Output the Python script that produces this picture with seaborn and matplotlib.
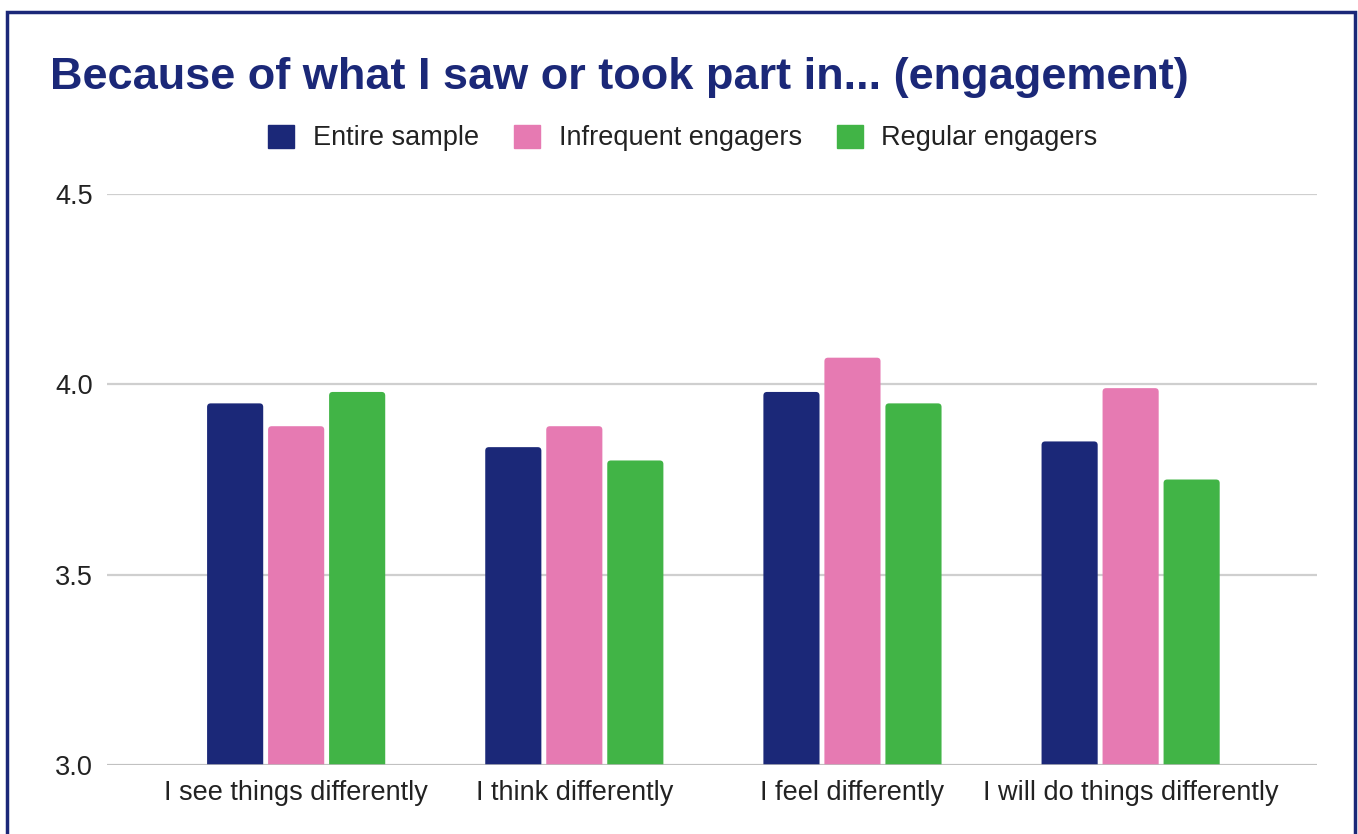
import pandas as pd
import matplotlib.pyplot as plt
import seaborn as sns
from matplotlib.patches import Rectangle, FancyBboxPatch

# Verileri resimden okudum
kategoriler = ["I see things differently", "I think differently",
               "I feel differently", "I will do things differently"]
entire_sample = [3.95, 3.835, 3.98, 3.85]
infrequent = [3.89, 3.89, 4.07, 3.99]
regular = [3.98, 3.80, 3.95, 3.75]
gruplar = ["Entire sample", "Infrequent engagers", "Regular engagers"]

renkler = ["#1B2878", "#E67AB2", "#41B446"]

df = pd.DataFrame({
    "kategori": kategoriler * 3,
    "grup": [gruplar[0]] * 4 + [gruplar[1]] * 4 + [gruplar[2]] * 4,
    "deger": entire_sample + infrequent + regular,
})

sns.set_theme(style="white")
plt.rcParams["font.family"] = ["Liberation Sans", "DejaVu Sans"]

fig = plt.figure(figsize=(13.58, 8.34), dpi=100)
ax = fig.add_axes([0.0788, 0.0827, 0.891, 0.6847])

sns.barplot(
    data=df, x="kategori", y="deger", hue="grup",
    palette=renkler, width=0.658, gap=0.08, ax=ax,
    legend=False, saturation=1,
)

ax.set_ylim(3.0, 4.5)
ax.set_xlim(-0.68, 3.67)

# Çubukların üst köşelerini yuvarlat
for p in list(ax.patches):
    x, y = p.get_x(), p.get_y()
    w, h = p.get_width(), p.get_height()
    yeni = FancyBboxPatch((x, y), w, h,
                          boxstyle="round,pad=0,rounding_size=0.013",
                          mutation_aspect=0.73,
                          facecolor=p.get_facecolor(), edgecolor="none")
    p.remove()
    ax.add_patch(yeni)

ax.set_yticks([3.0, 3.5, 4.0, 4.5])
ax.set_yticklabels(["3.0", "3.5", "4.0", "4.5"])
ax.yaxis.grid(True, color="#CFCFCF", linewidth=1.6)
ax.set_axisbelow(True)
for s in ax.spines.values():
    s.set_visible(False)
ax.axhline(3.0, color="#BDBDBD", linewidth=1.8, zorder=3)
ax.set_xlabel("")
ax.set_ylabel("")
ax.tick_params(axis="both", length=0, labelsize=19.5, colors="#222222")
ax.tick_params(axis="x", pad=11)
ax.tick_params(axis="y", pad=10)

# Başlık
fig.text(50 / 1358, 1 - 77 / 834, "Because of what I saw or took part in... (engagement)",
         fontsize=32.5, fontweight="bold", color="#1B2878", va="center", ha="left")

# Lejant
handles = [Rectangle((0, 0), 1, 1, color=c) for c in renkler]
fig.legend(handles, gruplar, loc="center", bbox_to_anchor=(683 / 1358, 1 - 138 / 834),
           ncol=3, frameon=False, fontsize=19.5, handlelength=0.95, handleheight=0.95,
           handletextpad=0.7, columnspacing=1.29, labelcolor="#222222")

# Çerçeve
fig.patches.append(Rectangle((7 / 1358, -0.05), (1355 - 7) / 1358, 1 - 12 / 834 + 0.05,
                             transform=fig.transFigure, fill=False,
                             edgecolor="#1B2878", linewidth=2.5))

plt.savefig("out.png", dpi=100)
plt.close()
